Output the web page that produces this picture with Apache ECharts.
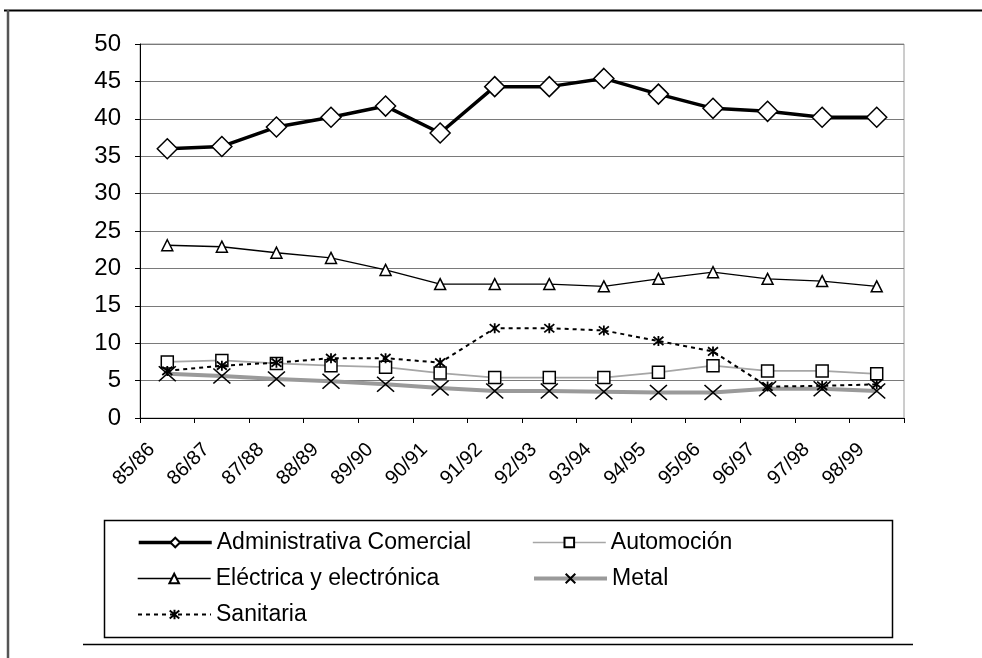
<!DOCTYPE html>
<html>
<head>
<meta charset="utf-8">
<script src="https://cdn.jsdelivr.net/npm/echarts@6/dist/echarts.min.js"></script>
<style>
html,body{margin:0;padding:0;background:#fff;}
#chart{width:982px;height:658px;}
</style>
</head>
<body>
<div id="chart"></div>
<script>
const categories = ['85/86','86/87','87/88','88/89','89/90','90/91','91/92','92/93','93/94','94/95','95/96','96/97','97/98','98/99'];
const yTicks = [0,5,10,15,20,25,30,35,40,45,50];
const administrativa = [36.0,36.3,38.9,40.2,41.7,38.1,44.3,44.3,45.4,43.3,41.4,41.0,40.2,40.2];
const automocion = [7.5,7.7,7.3,7.0,6.8,6.0,5.4,5.4,5.4,6.1,7.0,6.3,6.3,5.9];
const electrica = [23.1,22.9,22.1,21.4,19.8,17.9,17.9,17.9,17.6,18.6,19.5,18.6,18.3,17.6];
const metal = [5.9,5.6,5.2,4.9,4.5,4.0,3.6,3.6,3.5,3.4,3.4,3.9,3.9,3.6];
const sanitaria = [6.3,7.0,7.4,8.0,8.0,7.4,12.0,12.0,11.7,10.3,8.9,4.2,4.3,4.5];
const seriesNames = ['Administrativa Comercial','Automoción','Eléctrica y electrónica','Metal','Sanitaria'];

const FONT = 'Liberation Sans, Arial, sans-serif';
const X_PATH = 'path://M0,0L10,10M10,0L0,10';
const STAR_PATH = 'path://M0,0L10,10M10,0L0,10M5,-1L5,11';

const chart = echarts.init(document.getElementById('chart'), null, {renderer:'canvas'});
const legendText = {fontFamily: FONT, fontSize: 23, color: '#000'};
const mkLegend = (item, left, top) => ({
  data:[item], left:left, top:top, itemWidth:73, itemHeight:12, itemGap:0,
  textStyle: legendText, selectedMode:false, padding:0
});
chart.setOption({
  animation:false,
  backgroundColor:'#fff',
  grid:{left:140, right:78, top:44, bottom:240, show:true, borderColor:'#9a9a9a', borderWidth:1, backgroundColor:'transparent'},
  xAxis:{
    type:'category', data:categories, boundaryGap:true,
    axisLine:{lineStyle:{color:'#000', width:1}},
    axisTick:{show:true, alignWithLabel:false, length:5, inside:false, lineStyle:{color:'#000'}},
    axisLabel:{rotate:45, fontFamily:FONT, fontSize:20, color:'#000', margin:13, padding:[0,22,0,0], interval:0}
  },
  yAxis:{
    type:'value', min:0, max:50, interval:5,
    axisLine:{show:true, lineStyle:{color:'#000', width:1}},
    axisTick:{show:true, length:5, lineStyle:{color:'#000'}},
    axisLabel:{fontFamily:FONT, fontSize:24, color:'#000', margin:19, formatter:v=>yTicks.includes(v)?String(v):''},
    splitLine:{show:true, lineStyle:{color:'#7a7a7a', width:1}}
  },
  legend:[
    mkLegend({name:seriesNames[0], lineStyle:{width:3.5, color:'#000'}}, 137, 531),
    mkLegend({name:seriesNames[1], lineStyle:{width:1.6, color:'#a6a6a6'}}, 532, 531),
    mkLegend({name:seriesNames[2], lineStyle:{width:1.4, color:'#000'}}, 137, 567),
    mkLegend({name:seriesNames[3], lineStyle:{width:4, color:'#9a9a9a'}}, 532, 567),
    mkLegend({name:seriesNames[4], lineStyle:{width:2, color:'#000', type:[4,4]}}, 137, 603)
  ],
  series:[
    {name:seriesNames[0], type:'line', data:administrativa, z:5,
     lineStyle:{color:'#000', width:3.5}, symbol:'diamond', symbolSize:[20,20],
     itemStyle:{color:'#fff', borderColor:'#000', borderWidth:1.5}},
    {name:seriesNames[1], type:'line', data:automocion, z:3,
     lineStyle:{color:'#a6a6a6', width:1.6}, symbol:'rect', symbolSize:[12,12],
     itemStyle:{color:'#fff', borderColor:'#000', borderWidth:1.5}},
    {name:seriesNames[2], type:'line', data:electrica, z:4,
     lineStyle:{color:'#000', width:1.4}, symbol:'triangle', symbolSize:[11,11],
     itemStyle:{color:'#fff', borderColor:'#000', borderWidth:1.5}},
    {name:seriesNames[3], type:'line', data:metal, z:2,
     lineStyle:{color:'#9a9a9a', width:4}, symbol:X_PATH, symbolSize:[17,15],
     itemStyle:{color:'rgba(0,0,0,0)', borderColor:'#000', borderWidth:1.5}},
    {name:seriesNames[4], type:'line', data:sanitaria, z:4,
     lineStyle:{color:'#000', width:2, type:[4,4]}, symbol:STAR_PATH, symbolSize:[10,10],
     itemStyle:{color:'rgba(0,0,0,0)', borderColor:'#000', borderWidth:1.8}}
  ],
  graphic:[
    {type:'line', shape:{x1:4, y1:10.5, x2:982, y2:10.5}, style:{stroke:'#000', lineWidth:2}, silent:true},
    {type:'line', shape:{x1:8, y1:10, x2:8, y2:658}, style:{stroke:'#555', lineWidth:2.5}, silent:true},
    {type:'rect', shape:{x:104.5, y:520.5, width:788, height:117}, style:{stroke:'#000', fill:null, lineWidth:1.5}, silent:true, z:-1},
    {type:'line', shape:{x1:83, y1:644.5, x2:913, y2:644.5}, style:{stroke:'#000', lineWidth:1.5}, silent:true}
  ]
});
</script>
</body>
</html>
